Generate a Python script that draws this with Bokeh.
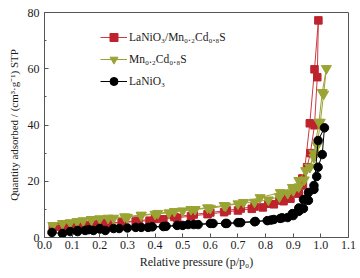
from bokeh.plotting import figure
from bokeh.models import Legend, LegendItem, SingleIntervalTicker, NumeralTickFormatter
from bokeh.embed import file_html
from bokeh.resources import INLINE

# LaNiO3/Mn0.2Cd0.8S  (adsorption then desorption)
red_p = [0.03, 0.06, 0.08, 0.10, 0.12, 0.14, 0.16, 0.18, 0.20, 0.23, 0.28, 0.33, 0.38, 0.43,
         0.48, 0.53, 0.59, 0.65, 0.70, 0.75, 0.79, 0.83, 0.865, 0.89, 0.92, 0.935, 0.96, 0.977, 0.991,
         0.987, 0.977, 0.962, 0.95, 0.933, 0.91, 0.88, 0.85, 0.81, 0.76, 0.71, 0.66, 0.60, 0.54,
         0.47, 0.40, 0.34, 0.28, 0.22]
red_v = [3.5, 3.8, 3.9, 4.0, 4.2, 4.3, 4.4, 4.6, 4.8, 5.0, 5.3, 5.7, 6.0, 6.5,
         7.0, 7.6, 8.3, 9.0, 9.6, 10.2, 10.7, 11.8, 12.9, 13.8, 15.6, 18.5, 40.6, 59.8, 77.2,
         57.0, 39.9, 30.0, 25.0, 21.0, 17.0, 14.5, 13.2, 12.0, 11.0, 10.3, 9.6, 8.9, 8.2,
         7.3, 6.6, 6.0, 5.5, 5.0]

# Mn0.2Cd0.8S
green_p = [0.03, 0.065, 0.093, 0.118, 0.14, 0.17, 0.20, 0.25, 0.30, 0.35, 0.40, 0.45, 0.50, 0.545,
           0.60, 0.655, 0.70, 0.76, 0.81, 0.85, 0.88, 0.90, 0.92, 0.94, 0.96, 0.975, 0.993, 1.005, 1.02,
           1.01, 0.998, 0.987, 0.975, 0.96, 0.945, 0.92, 0.897, 0.853, 0.78, 0.72, 0.65, 0.59, 0.53,
           0.47, 0.41, 0.35, 0.29, 0.23, 0.17]
green_v = [4.3, 5.0, 5.3, 5.7, 6.0, 6.4, 6.7, 6.9, 7.2, 7.8, 8.3, 8.8, 9.5, 10.0,
           10.4, 11.2, 12.0, 12.6, 13.4, 14.5, 15.7, 16.7, 18.0, 20.5, 25.0, 30.0, 41.0, 51.6, 60.1,
           51.0, 41.0, 32.7, 28.5, 25.0, 23.8, 20.3, 17.8, 16.0, 14.2, 12.5, 11.4, 10.6, 10.0,
           9.3, 8.6, 8.0, 7.4, 6.9, 6.4]

# LaNiO3
black_p = [0.027, 0.065, 0.093, 0.12, 0.147, 0.177, 0.20, 0.22, 0.27, 0.33, 0.375, 0.43, 0.48, 0.52,
           0.556, 0.61, 0.66, 0.70, 0.763, 0.806, 0.83, 0.853, 0.88, 0.90, 0.92, 0.937, 0.955, 0.975,
           0.99, 1.013,
           1.005, 0.99, 0.985, 0.975, 0.955, 0.937, 0.92, 0.897, 0.86, 0.82, 0.76, 0.71, 0.655, 0.60,
           0.54, 0.50, 0.44, 0.39, 0.35, 0.30, 0.25, 0.20, 0.16, 0.12]
black_v = [1.8, 1.4, 2.1, 2.1, 2.5, 2.5, 3.2, 2.5, 3.2, 3.6, 3.6, 3.9, 4.3, 4.6,
           4.6, 5.0, 5.0, 5.3, 5.7, 6.0, 6.4, 6.8, 7.1, 7.8, 9.3, 10.3, 13.2, 17.1,
           34.5, 39.0,
           29.5, 25.0, 21.7, 18.5, 16.0, 13.5, 10.5, 8.5, 7.0, 6.2, 5.6, 5.3, 5.0, 5.0,
           4.6, 4.3, 4.0, 3.8, 3.6, 3.4, 3.2, 3.0, 2.8, 2.5]

labels = ["LaNiO₃/Mn₀.₂Cd₀.₈S", "Mn₀.₂Cd₀.₈S", "LaNiO₃"]

FONT = "Liberation Serif"
RED = "#BE232D"
RED_LINE = "#CC3A42"
GREEN = "#9AA434"
BLACK = "#000000"

p = figure(width=360, height=278, x_range=(0, 1.1), y_range=(0, 80),
           output_backend="svg", toolbar_location=None,
           min_border_left=44, min_border_right=12, min_border_top=12, min_border_bottom=41)

p.xgrid.visible = False
p.ygrid.visible = False
p.outline_line_color = "#555555"
p.outline_line_width = 1
p.background_fill_color = "white"
p.border_fill_color = "white"

r1l = p.line(red_p, red_v, line_color=RED_LINE, line_width=1)
r1m = p.scatter(red_p, red_v, marker="square", size=7.5, fill_color=RED, line_color=RED)
r2l = p.line(green_p, green_v, line_color=GREEN, line_width=1)
r2m = p.scatter(green_p, green_v, marker="inverted_triangle", size=10, fill_color=GREEN, line_color=GREEN)
r3l = p.line(black_p, black_v, line_color=BLACK, line_width=1)
r3m = p.scatter(black_p, black_v, marker="circle", size=8.5, fill_color=BLACK, line_color=BLACK)

p.xaxis.ticker = SingleIntervalTicker(interval=0.1, num_minor_ticks=0)
p.xaxis.formatter = NumeralTickFormatter(format="0.0")
p.yaxis.ticker = SingleIntervalTicker(interval=20, num_minor_ticks=2)

for ax in (p.xaxis[0], p.yaxis[0]):
    ax.axis_line_color = "#555555"
    ax.major_tick_line_color = "#555555"
    ax.minor_tick_line_color = "#555555"
    ax.major_tick_in = 4
    ax.major_tick_out = 0
    ax.minor_tick_in = 2
    ax.minor_tick_out = 0
    ax.major_label_text_font = FONT
    ax.major_label_text_font_size = "12px"
    ax.major_label_text_color = "#1a1a1a"
    ax.axis_label_text_font = FONT
    ax.axis_label_text_font_style = "normal"
    ax.axis_label_text_color = "#1a1a1a"

p.xaxis.axis_label_text_font_size = "12px"
p.yaxis.axis_label_text_font_size = "11px"
p.xaxis.major_label_standoff = 3
p.xaxis.axis_label_standoff = 3
p.yaxis.major_label_standoff = 5
p.yaxis.axis_label_standoff = 5
p.xaxis.axis_label = "Relative pressure (p/p₀)"
p.yaxis.axis_label = "Quantity adsorbed / (cm³·g⁻¹) STP"

legend = Legend(items=[LegendItem(label=labels[0], renderers=[r1l, r1m]),
                       LegendItem(label=labels[1], renderers=[r2l, r2m]),
                       LegendItem(label=labels[2], renderers=[r3l, r3m])],
                location=(56, 146), padding=0, margin=0, spacing=2,
                glyph_width=27, glyph_height=20, label_height=20, label_standoff=2,
                label_text_font=FONT, label_text_font_size="11.5px", label_text_color="#1a1a1a",
                border_line_color=None, background_fill_alpha=0)
p.add_layout(legend, "center")

open("out.html", "w").write(file_html(p, INLINE))
